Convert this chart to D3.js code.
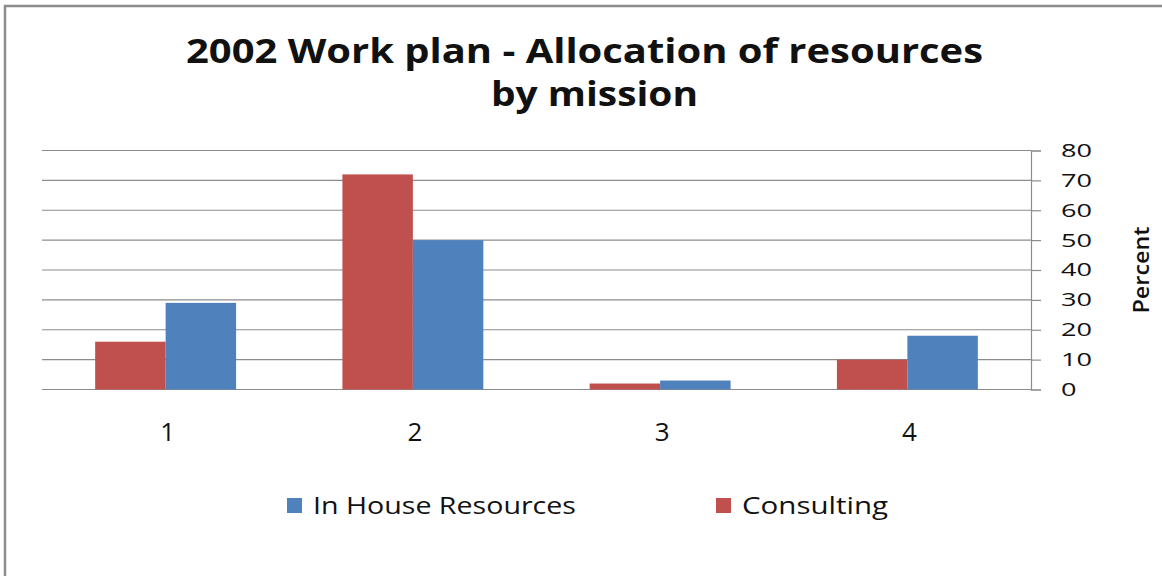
<!DOCTYPE html>
<html lang="en">
<head>
<meta charset="UTF-8">
<title>2002 Work plan - Allocation of resources by mission</title>
<script src="https://d3js.org/d3.v7.min.js"></script>
<style>
    body { margin: 0; background: #fff; }
    text { font-family: "Open Sans", "DejaVu Sans", sans-serif; fill: #111; }
</style>
</head>
<body>
<div id="chart"></div>
<script>
// chart data
const categories = ["1", "2", "3", "4"];
const seriesNames = ["Consulting", "In House Resources"];
const consulting = [16, 72, 2, 10];
const inHouse = [29, 50, 3, 18];
const yTicks = [0, 10, 20, 30, 40, 50, 60, 70, 80];
const legendOrder = ["In House Resources", "Consulting"];

const colors = { "Consulting": "#C0504D", "In House Resources": "#4F81BD" };
const width = 1162, height = 576;
const plot = { left: 42, right: 1031, top: 150.5, bottom: 389.5 };

const rows = categories.map((c, i) => ({
    cat: c,
    values: [
        { name: "Consulting", value: consulting[i] },
        { name: "In House Resources", value: inHouse[i] }
    ]
}));

const svg = d3.select("#chart").append("svg")
    .attr("width", width)
    .attr("height", height);

svg.append("rect").attr("width", width).attr("height", height).attr("fill", "#fff");

// outer frame (top and left edges show in the picture)
svg.append("path")
    .attr("d", `M5,${height} L5,6 L${width},6`)
    .attr("fill", "none")
    .attr("stroke", "#8c8c8c")
    .attr("stroke-width", 2.5);

// title
const title = svg.append("g").attr("class", "title");
title.append("text")
    .attr("x", 186).attr("y", 63)
    .attr("font-size", 34).attr("font-weight", "bold")
    .attr("fill", "#000")
    .attr("textLength", 797).attr("lengthAdjust", "spacingAndGlyphs")
    .text("2002 Work plan - Allocation of resources");
title.append("text")
    .attr("x", 491).attr("y", 106)
    .attr("font-size", 34).attr("font-weight", "bold")
    .attr("fill", "#000")
    .attr("textLength", 207).attr("lengthAdjust", "spacingAndGlyphs")
    .text("by mission");

// scales
const x0 = d3.scaleBand()
    .domain(categories)
    .range([plot.left, plot.right])
    .paddingInner(0.43)
    .paddingOuter(0.215);

const x1 = d3.scaleBand()
    .domain(seriesNames)
    .range([0, x0.bandwidth()]);

const y = d3.scaleLinear()
    .domain([0, 80])
    .range([plot.bottom, plot.top]);

// gridlines
svg.append("g").selectAll("line")
    .data(yTicks)
    .join("line")
    .attr("x1", plot.left).attr("x2", plot.right)
    .attr("y1", d => y(d)).attr("y2", d => y(d))
    .attr("stroke", "#8c8c8c")
    .attr("stroke-width", 1.2);

// right axis
const yAxis = svg.append("g")
    .attr("transform", `translate(${plot.right},0)`)
    .call(d3.axisRight(y).tickValues(yTicks).tickSize(10).tickPadding(20));
yAxis.select(".domain").attr("stroke", "#8c8c8c").attr("stroke-width", 1.2);
yAxis.selectAll(".tick line").attr("stroke", "#8c8c8c").attr("stroke-width", 1.2);
yAxis.selectAll(".tick text")
    .attr("font-family", "'Open Sans', sans-serif")
    .attr("font-size", 18.5)
    .attr("fill", "#222")
    .attr("textLength", d => String(d).length * 15.5)
    .attr("lengthAdjust", "spacingAndGlyphs");

// axis title
svg.append("text")
    .attr("transform", `translate(1149,${(plot.top + plot.bottom) / 2}) rotate(-90)`)
    .attr("text-anchor", "middle")
    .attr("font-size", 22)
    .attr("font-weight", 600)
    .attr("fill", "#000")
    .attr("textLength", 87).attr("lengthAdjust", "spacingAndGlyphs")
    .text("Percent");

// bars
svg.append("g").selectAll("g")
    .data(rows)
    .join("g")
    .attr("transform", d => `translate(${x0(d.cat)},0)`)
    .selectAll("rect")
    .data(d => d.values)
    .join("rect")
    .attr("x", d => x1(d.name))
    .attr("width", x1.bandwidth())
    .attr("y", d => y(d.value))
    .attr("height", d => y(0) - y(d.value))
    .attr("fill", d => colors[d.name]);

// category labels
svg.append("g").selectAll("text")
    .data(categories)
    .join("text")
    .attr("x", d => x0(d) + x0.bandwidth() / 2 + 2)
    .attr("y", 441)
    .attr("text-anchor", "middle")
    .attr("font-family", "'Liberation Sans', Arial, sans-serif")
    .attr("font-size", 26)
    .attr("fill", "#000")
    .text(d => d);

// legend
const legendX = { "In House Resources": 287, "Consulting": 716 };
const legendLen = { "In House Resources": 263, "Consulting": 146 };
const legend = svg.append("g").selectAll("g")
    .data(legendOrder)
    .join("g")
    .attr("transform", d => `translate(${legendX[d]},498)`);
legend.append("rect")
    .attr("width", 15).attr("height", 15)
    .attr("fill", d => colors[d]);
legend.append("text")
    .attr("x", 26).attr("y", 15.5)
    .attr("font-size", 23)
    .attr("fill", "#222")
    .attr("textLength", d => legendLen[d])
    .attr("lengthAdjust", "spacingAndGlyphs")
    .text(d => d);
</script>
</body>
</html>
